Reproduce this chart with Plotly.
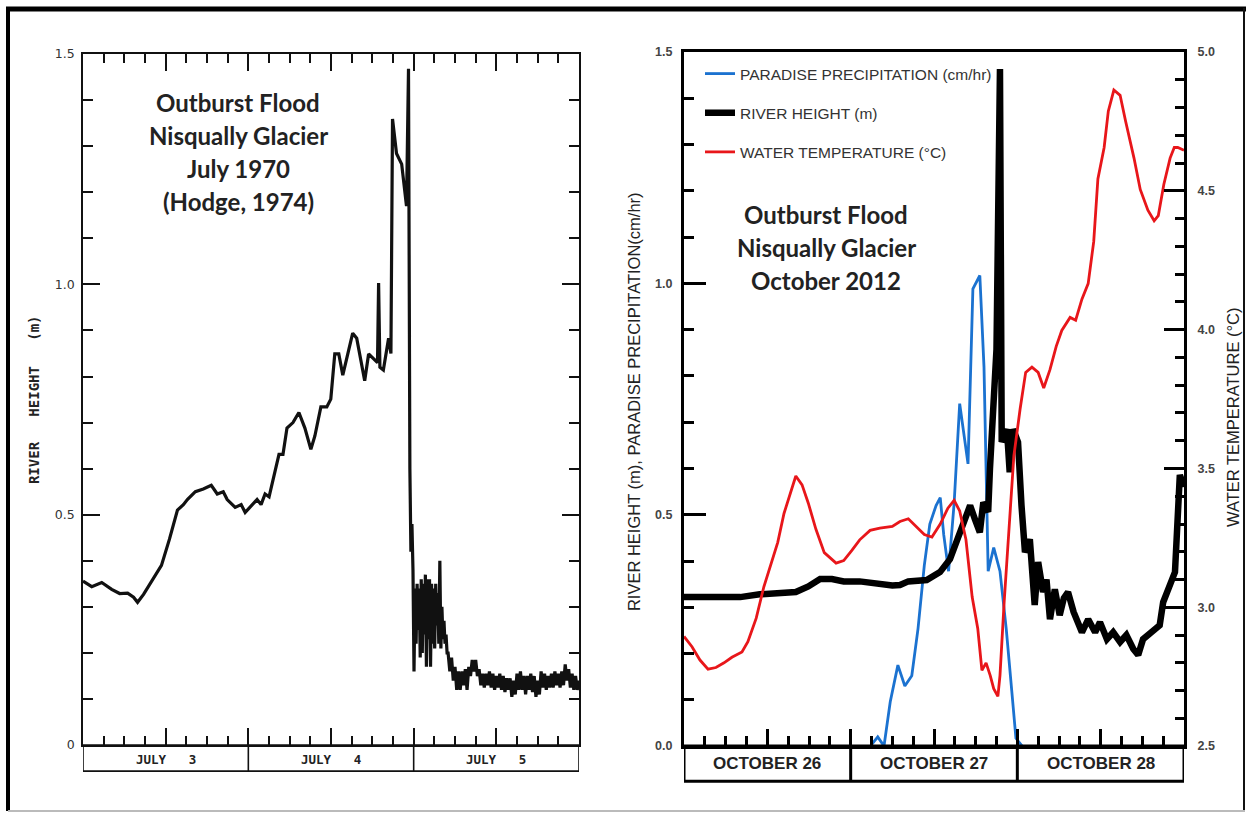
import plotly.graph_objects as go

W, H = 1247, 818

# ---------------- Left panel: July 1970 (hours since start of July 3) ----------------
L_HOURS = [0, 1.27, 2.72, 4.16, 5.32, 6.48, 7.34, 7.92, 8.79, 9.95, 11.39, 12.55, 13.71, 14.57,
           15.15, 16.31, 17.46, 18.62, 19.49, 20.36, 20.93, 22.09, 22.96, 23.54, 24.40, 25.27,
           25.85, 26.43, 27.01, 27.87, 28.45, 29.03, 29.61, 30.48, 31.34, 32.21, 33.08, 33.66,
           34.53, 35.39, 35.97, 36.55, 37.13, 37.71, 38.28, 39.15, 39.73, 40.31, 40.89, 41.46,
           42.33, 42.75, 42.91, 43.1, 43.60, 44.36, 44.7, 44.93, 45.51, 46.26, 46.96, 47.25,
           47.45, 47.6, 47.75,
           47.9, 48.05, 48.2, 48.35, 48.5, 48.65, 48.8, 48.95, 49.1, 49.25, 49.4, 49.55, 49.7,
           49.85, 50.0, 50.15, 50.3, 50.45, 50.6, 50.75, 50.9, 51.05, 51.2, 51.35, 51.5, 51.65,
           51.8, 51.95, 52.1, 52.25, 52.4, 52.55, 52.7, 52.85,
           53.0, 53.25, 53.5, 53.75, 54.0, 54.25, 54.5, 54.75, 55.0, 55.25, 55.5, 55.75, 56.0,
           56.25, 56.5, 56.75, 57.0, 57.25, 57.5, 57.75, 58.0, 58.25, 58.5, 58.75, 59.0, 59.25,
           59.5, 59.75, 60.0, 60.25, 60.5, 60.75, 61.0, 61.25, 61.5, 61.75, 62.0, 62.25, 62.5,
           62.75, 63.0, 63.25, 63.5, 63.75, 64.0, 64.25, 64.5, 64.75, 65.0, 65.25, 65.5, 65.75,
           66.0, 66.25, 66.5, 66.75, 67.0, 67.25, 67.5, 67.75, 68.0, 68.25, 68.5, 68.75, 69.0,
           69.25, 69.5, 69.75, 70.0, 70.25, 70.5, 70.75, 71.0, 71.25, 71.5, 71.75, 72.0]
L_HEIGHT = [0.356, 0.344, 0.353, 0.338, 0.329, 0.330, 0.321, 0.310, 0.327, 0.356, 0.390, 0.447,
            0.510, 0.522, 0.533, 0.550, 0.556, 0.564, 0.545, 0.550, 0.533, 0.516, 0.522, 0.505,
            0.518, 0.533, 0.522, 0.545, 0.539, 0.596, 0.631, 0.631, 0.688, 0.700, 0.722, 0.688,
            0.642, 0.671, 0.734, 0.734, 0.751, 0.849, 0.849, 0.803, 0.837, 0.894, 0.883, 0.837,
            0.791, 0.849, 0.837, 0.83, 1.003, 0.82, 0.814, 0.883, 0.85, 1.359, 1.284, 1.261,
            1.170, 1.468, 0.60, 0.42, 0.48,
            0.38, 0.16, 0.34, 0.22, 0.35, 0.25, 0.34, 0.19, 0.36, 0.20, 0.35, 0.24, 0.37, 0.17,
            0.36, 0.23, 0.36, 0.17, 0.35, 0.22, 0.34, 0.21, 0.35, 0.26, 0.33, 0.22, 0.40, 0.21,
            0.30, 0.23, 0.27, 0.22, 0.24, 0.20,
            0.20, 0.16, 0.19, 0.14, 0.17, 0.12, 0.16, 0.12, 0.16, 0.13, 0.165, 0.12, 0.17, 0.15,
            0.185, 0.16, 0.185, 0.15, 0.165, 0.13, 0.155, 0.125, 0.155, 0.13, 0.16, 0.125,
            0.155, 0.12, 0.15, 0.125, 0.155, 0.12, 0.15, 0.115, 0.145, 0.12, 0.145, 0.105, 0.14,
            0.11, 0.155, 0.12, 0.16, 0.12, 0.15, 0.11, 0.15, 0.12, 0.155, 0.115, 0.15, 0.105,
            0.14, 0.11, 0.16, 0.125, 0.155, 0.12, 0.15, 0.125, 0.155, 0.125, 0.16, 0.13, 0.155,
            0.125, 0.16, 0.13, 0.175, 0.14, 0.165, 0.125, 0.155, 0.12, 0.15, 0.12, 0.14]

L_DAYS = ["JULY   3", "JULY   4", "JULY   5"]
L_YTICKS = [0, 0.5, 1.0, 1.5]
L_YTICKTEXT = ["0", "0.5", "1.0", "1.5"]
L_TITLE = ["Outburst Flood", "Nisqually Glacier", "July 1970", "(Hodge, 1974)"]

# ---------------- Right panel: October 2012 (hours since start of Oct 26) ----------------
P_HOURS = [27.1, 27.9, 28.8, 29.7, 30.8, 31.8, 32.8, 33.7, 34.6, 35.4, 36.3, 36.9, 37.4, 38.1,
           38.9, 39.7, 40.9, 41.6, 42.6, 43.2, 43.8, 44.6, 45.5, 46.4, 47.2, 47.8, 48.7]
P_PRECIP = [0.005, 0.02, 0.0, 0.096, 0.175, 0.13, 0.152, 0.254, 0.39, 0.48, 0.52, 0.537, 0.457,
            0.378, 0.525, 0.74, 0.61, 0.988, 1.017, 0.819, 0.378, 0.429, 0.378, 0.254, 0.119,
            0.017, 0.0]

R_HOURS = [0, 2.3, 5.2, 8.1, 10.9, 13.8, 16.1, 17.9, 19.6, 21.3, 23.0, 25.3, 27.6, 30.0, 31.1,
           32.3, 34.95, 36.86, 38.3, 39.74, 41.2, 41.9, 42.6, 43.1, 43.8, 44.06, 44.5, 45.0,
           45.5, 45.75, 46.5, 46.9, 47.4, 48.1, 48.6, 49.1, 49.8, 50.5, 51.0, 51.7, 52.2, 52.7,
           53.4, 54.1, 54.7, 55.3, 56.1, 56.7, 57.3, 58.2, 59.2, 59.9, 60.9, 61.8, 62.8, 63.7,
           64.7, 65.4, 66.1, 67.3, 68.5, 69.0, 70.0, 70.7, 71.4, 72.0]
R_HEIGHT = [0.322, 0.322, 0.324, 0.322, 0.328, 0.330, 0.333, 0.345, 0.361, 0.361, 0.356, 0.356,
            0.350, 0.347, 0.348, 0.356, 0.359, 0.376, 0.404, 0.462, 0.52, 0.49, 0.462, 0.527,
            0.506, 0.60, 0.715, 0.858, 1.463, 0.657, 0.685, 0.592, 0.685, 0.657, 0.52, 0.419,
            0.447, 0.305, 0.398, 0.333, 0.36, 0.274, 0.339, 0.283, 0.32, 0.333, 0.29, 0.27,
            0.246, 0.274, 0.246, 0.268, 0.231, 0.246, 0.225, 0.24, 0.21, 0.197, 0.231, 0.246,
            0.261, 0.311, 0.354, 0.376, 0.586, 0.56]

T_HOURS = [0, 1.15, 2.3, 3.46, 4.6, 5.76, 6.9, 8.35, 9.2, 10.4, 11.5, 12.4, 13.5, 14.4, 15.3,
           16.1, 17.0, 17.9, 19.0, 20.2, 21.9, 23.0, 24.2, 25.3, 26.8, 28.2, 30.0, 31.1, 32.3,
           33.4, 34.6, 35.7, 36.9, 38.0, 38.9, 39.7, 40.6, 41.5, 42.3, 42.9, 43.5, 44.1, 44.6,
           45.2, 45.5, 46.1, 46.9, 47.5, 48.4, 49.2, 50.1, 51.0, 51.8, 52.7, 53.6, 54.4, 55.6,
           56.4, 57.3, 58.2, 59.0, 59.6, 60.5, 61.1, 61.9, 62.8, 63.6, 64.8, 65.7, 66.8, 67.7,
           68.3, 69.1, 70.0, 70.6, 71.1, 72.0]
T_TEMP = [2.895, 2.858, 2.81, 2.777, 2.783, 2.80, 2.82, 2.839, 2.876, 2.961, 3.074, 3.149, 3.234,
          3.338, 3.413, 3.473, 3.441, 3.375, 3.281, 3.197, 3.159, 3.168, 3.206, 3.243, 3.277,
          3.285, 3.291, 3.309, 3.319, 3.29, 3.262, 3.253, 3.30, 3.357, 3.385, 3.347, 3.244,
          3.037, 2.924, 2.773, 2.80, 2.754, 2.707, 2.679, 2.754, 3.018, 3.30, 3.545, 3.714,
          3.846, 3.865, 3.846, 3.79, 3.856, 3.94, 3.997, 4.044, 4.034, 4.11, 4.166, 4.317,
          4.543, 4.656, 4.787, 4.863, 4.844, 4.75, 4.618, 4.505, 4.43, 4.392, 4.411, 4.524,
          4.618, 4.656, 4.656, 4.646]

R_DAYS = ["OCTOBER 26", "OCTOBER 27", "OCTOBER 28"]
R_YTICKS = [0, 0.5, 1.0, 1.5]
R_YTICKTEXT = ["0.0", "0.5", "1.0", "1.5"]
T_YTICKS = [2.5, 3.0, 3.5, 4.0, 4.5, 5.0]
T_YTICKTEXT = ["2.5", "3.0", "3.5", "4.0", "4.5", "5.0"]
R_TITLE = ["Outburst Flood", "Nisqually Glacier", "October 2012"]
LEGEND_NAMES = ["PARADISE PRECIPITATION (cm/hr)", "RIVER HEIGHT (m)", "WATER TEMPERATURE (°C)"]

# vertical calibration of the photographed page (observed y_photo = 0.9815*y + 6)
CAL_A, CAL_B = 0.9815, 6.0


def px(x):
    return x / W


def py(y_target):
    y = (y_target - CAL_B) / CAL_A
    y = min(max(y, 0), H)
    return 1 - y / H


# layout geometry (target pixels)
LX0, LX1, LYT, LYB, LBAND = 83, 579, 52, 743, 769
RX0, RX1, RYT, RYB, RBAND = 684, 1184, 50, 744, 779

fig = go.Figure()

fig.add_trace(go.Scatter(x=L_HOURS, y=L_HEIGHT, mode="lines", xaxis="x", yaxis="y",
                         line=dict(color="#111111", width=3.2), showlegend=False))

fig.add_trace(go.Scatter(x=P_HOURS, y=P_PRECIP, mode="lines", xaxis="x2", yaxis="y2",
                         name=LEGEND_NAMES[0], legendgroup="a",
                         line=dict(color="#1b72d0", width=2.8)))
fig.add_trace(go.Scatter(x=R_HOURS, y=R_HEIGHT, mode="lines", xaxis="x2", yaxis="y2",
                         name=LEGEND_NAMES[1], legendgroup="b",
                         line=dict(color="#000000", width=6.5)))
fig.add_trace(go.Scatter(x=T_HOURS, y=T_TEMP, mode="lines", xaxis="x2", yaxis="y3",
                         name=LEGEND_NAMES[2], legendgroup="c",
                         line=dict(color="#e8161a", width=2.8)))

fig.update_layout(
    width=W, height=H, autosize=False,
    margin=dict(l=0, r=0, t=0, b=0, pad=0),
    paper_bgcolor="white", plot_bgcolor="white",
    font=dict(family="Liberation Sans, Arial", color="#222"),
    xaxis=dict(domain=[px(LX0), px(LX1)], range=[0, 72], showline=True, linecolor="#111",
               linewidth=1.6, mirror="ticks", ticks="inside", tickvals=[0, 12, 24, 36, 48, 60, 72],
               ticklen=17, tickwidth=1.6, tickcolor="#111", showticklabels=False,
               minor=dict(dtick=3, tick0=0, ticks="inside", ticklen=9, tickwidth=1.6,
                          tickcolor="#111"),
               showgrid=False, zeroline=False, anchor="y"),
    yaxis=dict(domain=[py(LYB), py(LYT)], range=[0, 1.5], showline=True, linecolor="#111",
               linewidth=1.6, mirror="ticks", ticks="inside", tickvals=L_YTICKS,
               ticktext=L_YTICKTEXT, ticklen=17, tickwidth=1.6, tickcolor="#111",
               tickfont=dict(family="DejaVu Sans", size=12.5, color="#333"),
               ticklabelstandoff=4,
               minor=dict(dtick=0.1, tick0=0, ticks="inside", ticklen=10, tickwidth=1.6,
                          tickcolor="#111"),
               showgrid=False, zeroline=False, anchor="x"),
    xaxis2=dict(domain=[px(RX0), px(RX1)], range=[0, 72], showline=True, linecolor="#000",
                linewidth=3, mirror=True, ticks="inside", tickvals=[0, 12, 24, 36, 48, 60, 72],
                ticklen=17, tickwidth=3, tickcolor="#000", showticklabels=False,
                minor=dict(dtick=3, tick0=0, ticks="inside", ticklen=10, tickwidth=3,
                           tickcolor="#000"),
                showgrid=False, zeroline=False, anchor="y2"),
    yaxis2=dict(domain=[py(RYB), py(RYT)], range=[0, 1.5], showline=True, linecolor="#000",
                linewidth=3, ticks="inside", tickvals=R_YTICKS,
                ticktext=["<b>%s</b>" % t for t in R_YTICKTEXT], ticklen=22, tickwidth=3,
                tickcolor="#000", tickfont=dict(size=12.5, color="#444"), ticklabelstandoff=6,
                minor=dict(dtick=0.1, tick0=0, ticks="inside", ticklen=10, tickwidth=3,
                           tickcolor="#000"),
                showgrid=False, zeroline=False, anchor="x2"),
    yaxis3=dict(range=[2.5, 5.0], overlaying="y2", side="right", showline=True,
                linecolor="#000", linewidth=3, ticks="inside", tickvals=T_YTICKS,
                ticktext=["<b>%s</b>" % t for t in T_YTICKTEXT], ticklen=20, tickwidth=3,
                tickcolor="#000", tickfont=dict(size=12.5, color="#444"), ticklabelstandoff=8,
                minor=dict(dtick=0.1, tick0=2.5, ticks="inside", ticklen=9, tickwidth=3,
                           tickcolor="#000"),
                showgrid=False, zeroline=False, anchor="x2"),
    legend=dict(x=px(700), y=py(55), xanchor="left", yanchor="top", bgcolor="rgba(0,0,0,0)",
                font=dict(size=15.5, color="#333"), traceorder="grouped", tracegroupgap=16,
                itemwidth=30),
    showlegend=True,
)

shapes = []
# outer frame
shapes += [
    dict(type="line", xref="paper", yref="paper", x0=px(6), x1=px(1246), y0=py(7), y1=py(7),
         line=dict(color="#000", width=5)),
    dict(type="line", xref="paper", yref="paper", x0=px(8), x1=px(8), y0=py(4), y1=py(818),
         line=dict(color="#000", width=4)),
    dict(type="line", xref="paper", yref="paper", x0=px(1244), x1=px(1244), y0=py(4),
         y1=py(818), line=dict(color="#111", width=2)),
    dict(type="line", xref="paper", yref="paper", x0=px(8), x1=px(1245), y0=py(814),
         y1=py(814), line=dict(color="#bbb", width=2)),
]
# left date band
shapes.append(dict(type="rect", xref="x", yref="paper", x0=0, x1=72, y0=py(LBAND), y1=py(LYB),
                   line=dict(color="#111", width=1.6)))
for d in (24, 48):
    shapes.append(dict(type="line", xref="x", yref="paper", x0=d, x1=d, y0=py(LBAND),
                       y1=py(LYB), line=dict(color="#111", width=1.6)))
# right date band
shapes.append(dict(type="rect", xref="x2", yref="paper", x0=0, x1=72, y0=py(RBAND), y1=py(RYB),
                   line=dict(color="#000", width=3)))
for d in (24, 48):
    shapes.append(dict(type="line", xref="x2", yref="paper", x0=d, x1=d, y0=py(RBAND),
                       y1=py(RYB), line=dict(color="#000", width=3)))
fig.update_layout(shapes=shapes)


def note(x, y, text, font, xref="paper", angle=0):
    return dict(xref=xref, yref="paper", x=x, y=y, text=text, showarrow=False,
                xanchor="center", yanchor="middle", textangle=angle, font=font)


ann = []
for i, lab in enumerate(L_DAYS):
    ann.append(note(12 + 24 * i, py(757), "<b>%s</b>" % lab,
                    dict(family="DejaVu Sans Mono", size=12.5, color="#222"), xref="x"))
for i, lab in enumerate(R_DAYS):
    ann.append(note(12 + 24 * i, py(761), "<b>%s</b>" % lab,
                    dict(size=17, color="#222"), xref="x2"))
for i, line in enumerate(L_TITLE):
    ann.append(note(px(238), py(100 + 33 * i), "<b>%s</b>" % line,
                    dict(family="Lato", size=24, color="#222")))
for i, line in enumerate(R_TITLE):
    ann.append(note(px(826), py(212 + 33 * i), "<b>%s</b>" % line,
                    dict(family="Lato", size=24, color="#222")))
ann.append(note(px(34), py(398), "<b>RIVER   HEIGHT   (m)</b>",
                dict(family="DejaVu Sans Mono", size=14, color="#222"), angle=-90))
ann.append(note(px(634), py(400), "RIVER HEIGHT (m), PARADISE PRECIPITATION(cm/hr)",
                dict(size=16.5, color="#222"), angle=-90))
ann.append(note(px(1233), py(415), "WATER TEMPERATURE (°C)",
                dict(size=16.5, color="#222"), angle=-90))
fig.update_layout(annotations=ann)

POST = ("document.documentElement.style.margin='0';document.body.style.margin='0';"
        "document.body.style.padding='0';document.body.style.overflow='hidden';"
        "var gd=document.getElementById('{plot_id}');gd.style.position='absolute';"
        "gd.style.left='0px';gd.style.top='0px';")

fig.write_html("out.html", post_script=POST, config={"displayModeBar": False})
